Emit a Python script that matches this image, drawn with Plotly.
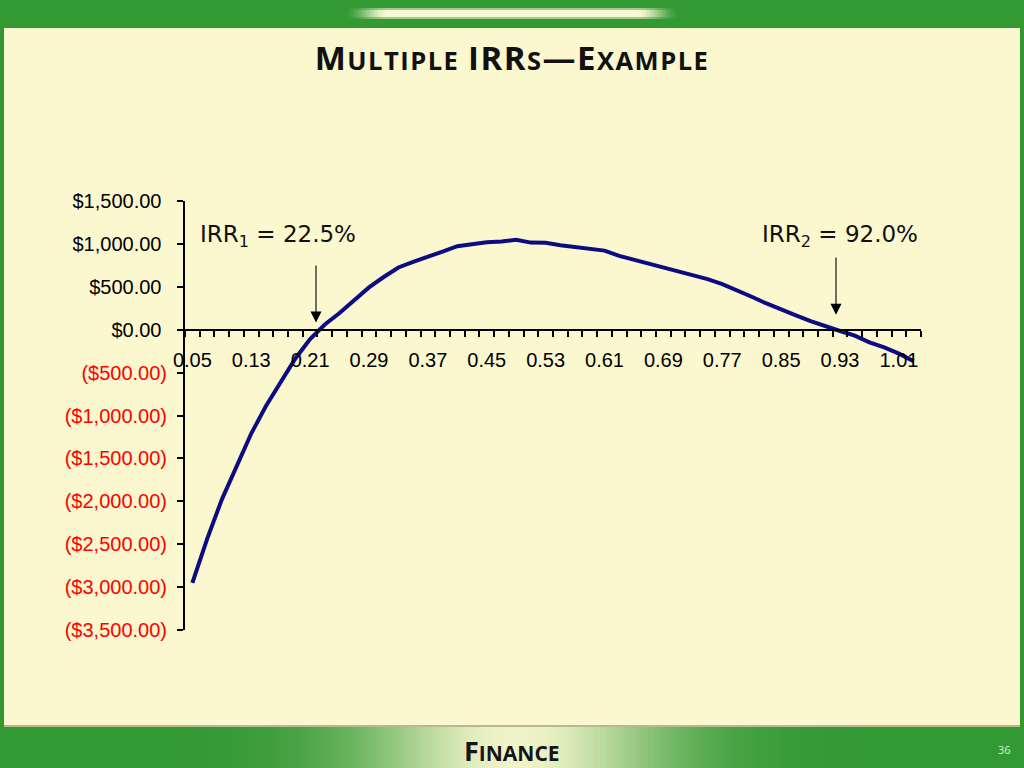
import math
import plotly.graph_objects as go

# ---------------- data ----------------
rates = [0.05, 0.07, 0.09, 0.11, 0.13, 0.15, 0.17, 0.19, 0.21, 0.23,
         0.25, 0.27, 0.29, 0.31, 0.33, 0.35, 0.37, 0.39, 0.41, 0.43,
         0.45, 0.47, 0.49, 0.51, 0.53, 0.55, 0.57, 0.59, 0.61, 0.63,
         0.65, 0.67, 0.69, 0.71, 0.73, 0.75, 0.77, 0.79, 0.81, 0.83,
         0.85, 0.87, 0.89, 0.91, 0.93, 0.95, 0.97, 0.99, 1.01, 1.03]
npv = [-2950, -2440, -1980, -1590, -1210, -890, -620, -335, -110, 60,
       195, 343, 493, 614, 725, 791, 857, 911, 973, 1000,
       1019, 1027, 1047, 1015, 1012, 985, 965, 950, 922, 860,
       814, 767, 725, 686, 628, 589, 531, 461, 384, 306,
       233, 167, 101, 38, -15, -70, -147, -205, -279, -368]

x_tick_vals = [0.05, 0.13, 0.21, 0.29, 0.37, 0.45, 0.53, 0.61, 0.69, 0.77, 0.85, 0.93, 1.01]
x_tick_text = ["0.05", "0.13", "0.21", "0.29", "0.37", "0.45", "0.53",
               "0.61", "0.69", "0.77", "0.85", "0.93", "1.01"]
y_tick_vals = [1500, 1000, 500, 0, -500, -1000, -1500, -2000, -2500, -3000, -3500]
y_tick_text = ["$1,500.00", "$1,000.00", "$500.00", "$0.00", "($500.00)", "($1,000.00)",
               "($1,500.00)", "($2,000.00)", "($2,500.00)", "($3,000.00)", "($3,500.00)"]

irr_labels = ["IRR<sub>1</sub> = 22.5%", "IRR<sub>2</sub> = 92.0%"]
irr_label_x = [0.0577, 1.0386]
irr_arrow_x = [0.218, 0.9245]
irr_arrow_tip = [85, 174]
irr_arrow_tail = [767, 860]
page_no = "36"

# ---------------- layout helpers ----------------
W, H = 1024, 768
L, R, T, B = 185, 103, 201, 138
PW, PH = W - L - R, H - T - B


def px_x(px):
    return (px - L) / PW


def px_y(py):
    return (H - B - py) / PH


GREEN = (51, 153, 51)
CREAM = (250, 247, 212)
BG = "#FBF7CF"


def mix(c1, c2, a):
    return "rgb(%d,%d,%d)" % tuple(round(c1[i] + (c2[i] - c1[i]) * a) for i in range(3))


def span(txt, size, spacing):
    return "<span style='font-size:%spx;letter-spacing:%spx'>%s</span>" % (size, spacing, txt)


BIG, SMALL, SP = 33, 25.5, 1.5
title_html = (span("M", BIG, SP) + span("ULTIPLE", SMALL, SP) + " "
              + span("IRR", BIG, SP) + span("S", SMALL, SP)
              + span("\u2014", BIG, SP)
              + span("E", BIG, SP) + span("XAMPLE", SMALL, SP))
footer_html = span("F", 27, 0) + span("INANCE", 21, 0)

shapes = []
shapes.append(dict(type="rect", xref="paper", yref="paper", layer="below",
                   x0=px_x(4), x1=px_x(1020), y0=px_y(726), y1=px_y(28),
                   fillcolor=BG, line=dict(width=0)))
shapes.append(dict(type="rect", xref="paper", yref="paper", layer="below",
                   x0=px_x(4), x1=px_x(1020), y0=px_y(727), y1=px_y(725),
                   fillcolor="#B9B894", line=dict(width=0)))

for px in range(343, 681, 2):
    a = min(1.0, min(px - 343, 680 - px) / 45.0)
    a = a * a * (3 - 2 * a)
    shapes.append(dict(type="rect", xref="paper", yref="paper", layer="below",
                       x0=px_x(px), x1=px_x(px + 2), y0=px_y(19), y1=px_y(8),
                       fillcolor=mix(GREEN, CREAM, a * 0.55), line=dict(width=0)))
    shapes.append(dict(type="rect", xref="paper", yref="paper", layer="below",
                       x0=px_x(px), x1=px_x(px + 2), y0=px_y(17), y1=px_y(10),
                       fillcolor=mix(GREEN, CREAM, a), line=dict(width=0)))

for px in range(180, 860, 3):
    a = math.exp(-((px - 515) / 150.0) ** 2)
    shapes.append(dict(type="rect", xref="paper", yref="paper", layer="below",
                       x0=px_x(px), x1=px_x(px + 3), y0=px_y(768), y1=px_y(727),
                       fillcolor=mix(GREEN, (240, 243, 200), a), line=dict(width=0)))

# ---------------- figure ----------------
fig = go.Figure()
fig.add_trace(go.Scatter(x=rates, y=npv, mode="lines",
                         line=dict(color="#0B0B82", width=4),
                         hoverinfo="skip", showlegend=False))

y_text = []
for v, t in zip(y_tick_vals, y_tick_text):
    if v < 0:
        y_text.append("<span style='color:#FF0000'>%s</span>" % t)
    else:
        y_text.append(t + "\u00a0")

annotations = [
    dict(x=irr_label_x[0], y=1093, xref="x", yref="y",
         text=irr_labels[0], showarrow=False, xanchor="left", yanchor="middle",
         font=dict(family="DejaVu Sans", size=23, color="#111111")),
    dict(x=irr_label_x[1], y=1093, xref="x", yref="y",
         text=irr_labels[1], showarrow=False, xanchor="right", yanchor="middle",
         font=dict(family="DejaVu Sans", size=23, color="#111111")),
]
for xa, tip, tail in zip(irr_arrow_x, irr_arrow_tip, irr_arrow_tail):
    annotations.append(dict(x=xa, y=tip, ax=xa, ay=tail, xref="x", yref="y",
                            axref="x", ayref="y", text="", showarrow=True,
                            arrowhead=2, arrowsize=2, arrowwidth=1.1,
                            arrowcolor="#000000"))
annotations += [
    dict(x=px_x(512), y=px_y(750), xref="paper", yref="paper", text=footer_html,
         showarrow=False, xanchor="center", yanchor="middle",
         font=dict(family="Open Sans", size=27, weight="bold", color="#151515")),
    dict(x=px_x(1004), y=px_y(749), xref="paper", yref="paper", text=page_no,
         showarrow=False, xanchor="center", yanchor="middle",
         font=dict(family="Open Sans", size=11, color="#DDEFD0")),
]

fig.update_layout(
    width=W, height=H, autosize=False,
    margin=dict(l=L, r=R, t=T, b=B, pad=0),
    paper_bgcolor="rgb(51,153,51)",
    plot_bgcolor="rgba(0,0,0,0)",
    font=dict(family="Liberation Sans", size=20, color="#000000"),
    title=dict(text=title_html, x=0.5, xref="container", xanchor="center",
               y=1 - 58 / H, yref="container", yanchor="middle",
               font=dict(family="Open Sans", size=BIG, weight="bold", color="#111111")),
    shapes=shapes,
    annotations=annotations,
    showlegend=False,
    xaxis=dict(range=[0.04, 1.04], anchor="free", position=0.7,
               showgrid=False, zeroline=False,
               showline=True, linecolor="#000000", linewidth=2,
               tickmode="array", tickvals=x_tick_vals, ticktext=x_tick_text,
               ticks="", ticklabelstandoff=12,
               tickfont=dict(family="Liberation Sans", size=20, color="#000000"),
               minor=dict(ticks="outside", tick0=0.04, dtick=0.02, ticklen=6,
                          tickwidth=2, tickcolor="#000000", showgrid=False)),
    yaxis=dict(range=[-3500, 1500], domain=[0, 1],
               showgrid=False, zeroline=False,
               showline=True, linecolor="#000000", linewidth=2,
               tickmode="array", tickvals=y_tick_vals, ticktext=y_text,
               ticks="outside", ticklen=6, tickwidth=2, tickcolor="#000000",
               ticklabelstandoff=6,
               tickfont=dict(family="Liberation Sans", size=20, color="#000000")),
)

fig.write_html(
    "out.html",
    config={"displayModeBar": False, "staticPlot": True},
    post_script="document.body.style.margin='0px';"
                "document.documentElement.style.overflow='hidden';"
                "document.body.style.background='rgb(51,153,51)';",
)
